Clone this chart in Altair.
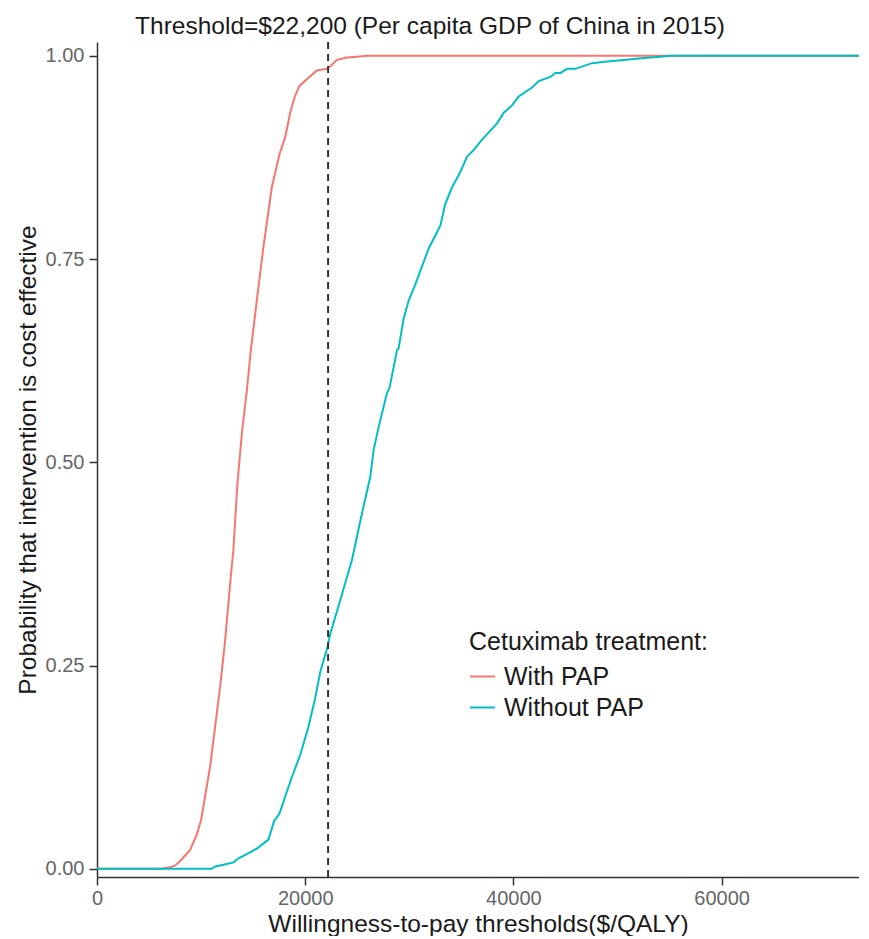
import altair as alt
import pandas as pd

# Cost-effectiveness acceptability curves
with_x = [0, 6000, 7000, 7500, 8000, 8940, 9580, 10000, 10380, 10870, 11350, 11830,
          12310, 12790, 13100, 13490, 13910, 14390, 14780, 15350, 15990, 16790, 17530,
          18080, 18560, 19000, 19450, 20320, 21120, 22080, 22500, 23050, 24010, 24970,
          26000, 74200]
with_y = [0, 0, 0.002, 0.004, 0.010, 0.023, 0.042, 0.060, 0.089, 0.126, 0.175, 0.224,
          0.281, 0.351, 0.392, 0.474, 0.535, 0.588, 0.638, 0.699, 0.765, 0.838, 0.879,
          0.900, 0.930, 0.950, 0.963, 0.973, 0.982, 0.984, 0.988, 0.995, 0.998, 0.999,
          1.0, 1.0]

without_x = [0, 11030, 11350, 12140, 13110, 13590, 14390, 15350, 16470, 17020, 17530,
             18080, 18720, 19520, 20320, 20960, 21440, 22140, 22400, 23360, 24490, 25450,
             26250, 26570, 27050, 27850, 28110, 28820, 28970, 29460, 29940, 30580, 31860,
             32500, 32980, 33460, 34100, 34900, 35550, 36180, 36990, 37790, 38430, 39070,
             39870, 40510, 41790, 42430, 43560, 44040, 44520, 45160, 45960, 47560, 49000,
             50600, 52210, 54130, 55090, 74200]
without_y = [0, 0, 0.003, 0.005, 0.008, 0.013, 0.018, 0.025, 0.036, 0.059, 0.068,
             0.089, 0.113, 0.140, 0.175, 0.210, 0.242, 0.273, 0.289, 0.330, 0.380, 0.437,
             0.482, 0.515, 0.543, 0.585, 0.592, 0.638, 0.640, 0.677, 0.699, 0.719, 0.763,
             0.779, 0.791, 0.818, 0.838, 0.857, 0.876, 0.884, 0.897, 0.908, 0.917, 0.930,
             0.939, 0.950, 0.961, 0.969, 0.974, 0.979, 0.979, 0.984, 0.984, 0.991, 0.993,
             0.995, 0.997, 0.999, 1.0, 1.0]

series_names = ["With PAP", "Without PAP"]
series_colors = ["#F8766D", "#00BFC4"]
threshold = [22200]
x_ticks = [0, 20000, 40000, 60000]
y_ticks = [0, 0.25, 0.5, 0.75, 1.0]

df = pd.DataFrame({
    "wtp": with_x + without_x,
    "prob": with_y + without_y,
    "group": [series_names[0]] * len(with_x) + [series_names[1]] * len(without_x),
})
df_thr = pd.DataFrame({"wtp": threshold})

FONT = "Liberation Sans"

x_enc = alt.X("wtp:Q",
              scale=alt.Scale(domain=[0, 73200], nice=False, zero=False),
              axis=alt.Axis(values=x_ticks, format="d",
                            title="Willingness-to-pay thresholds($/QALY)",
                            labelPadding=3, titlePadding=4, labelFlush=False))
y_enc = alt.Y("prob:Q",
              scale=alt.Scale(domain=[-0.01, 1.017], nice=False, zero=False),
              axis=alt.Axis(values=y_ticks, format=".2f",
                            title="Probability that intervention is cost effective",
                            labelPadding=5, titlePadding=5, labelFlush=False))

lines = alt.Chart(df).mark_line(strokeWidth=2, clip=True).encode(
    x=x_enc,
    y=y_enc,
    color=alt.Color("group:N",
                    scale=alt.Scale(domain=series_names, range=series_colors),
                    legend=alt.Legend(
                        title="Cetuximab treatment:",
                        orient="none", legendX=372, legendY=588,
                        symbolType="stroke", symbolSize=625, symbolStrokeWidth=2,
                        labelFontSize=25, titleFontSize=25,
                        labelFont=FONT, titleFont=FONT,
                        titleFontWeight="normal",
                        labelColor="#1a1a1a", titleColor="#1a1a1a",
                        labelOffset=8, rowPadding=4, titlePadding=8,
                        titleLimit=500, labelLimit=400,
                    )),
)

rule = alt.Chart(df_thr).mark_rule(
    strokeDash=[7, 5], color="#333333", strokeWidth=2
).encode(x=alt.X("wtp:Q"))

chart = alt.layer(lines, rule).properties(
    width=762,
    height=835,
    padding={"left": 7, "top": 5, "right": 0, "bottom": 0},
    title=alt.Title(
        "Threshold=$22,200 (Per capita GDP of China in 2015)",
        font=FONT, fontSize=24.5, fontWeight="normal", color="#1a1a1a",
        anchor="middle", frame="bounds", offset=2, dx=-7,
    ),
).configure_view(stroke=None).configure_axis(
    grid=False,
    domainColor="#333333", domainWidth=1.5,
    tickColor="#333333", tickWidth=1.5, tickSize=8,
    labelFont=FONT, labelFontSize=20, labelColor="#666666",
    titleFont=FONT, titleFontSize=24.5, titleFontWeight="normal", titleColor="#1a1a1a",
)

chart.save("out.html", embed_options={"renderer": "svg", "actions": False})
